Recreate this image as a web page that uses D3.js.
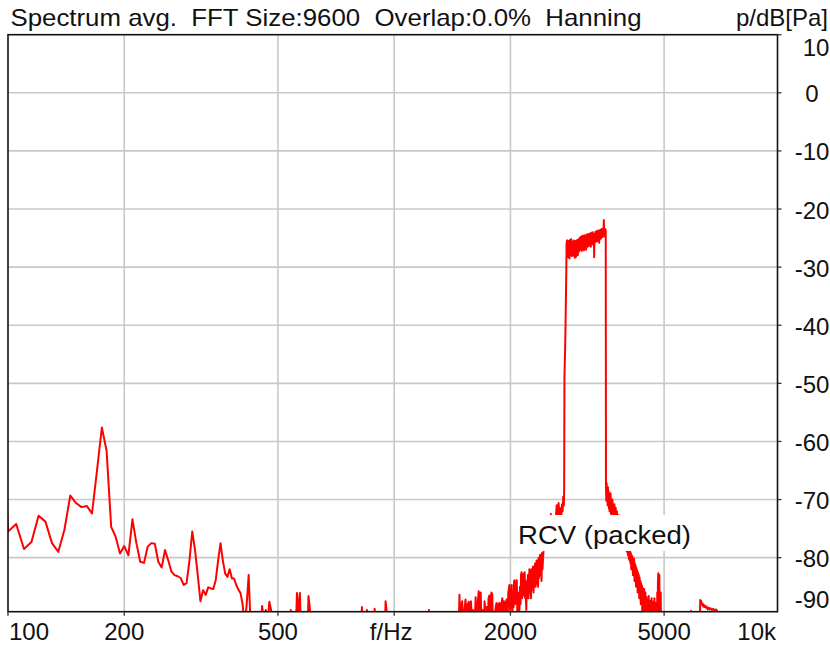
<!DOCTYPE html>
<html>
<head>
<meta charset="utf-8">
<script src="https://cdn.jsdelivr.net/npm/d3@7"></script>
<style>
  html, body { margin: 0; padding: 0; background: #fff; }
  svg { display: block; font-family: "Liberation Sans", Arial, sans-serif; }
</style>
</head>
<body>
<svg id="chart" width="830" height="647"></svg>
<script>
// spectrum, 5 Hz bins from 95 Hz up to 610 Hz
const lowStartHz = 95;
const lowStepHz = 5;
const lowDb = [
  -40, -75.5, -74.2, -78.5, -77.3, -72.8, -73.8, -77.5, -79.0, -75.2,
  -69.3, -70.6, -71.3, -71.1, -72.4, -65.0, -57.6, -61.6, -74.7, -76.4,
  -79.3, -78.0, -79.6, -73.4, -77.5, -80.7, -80.9, -78.1, -77.5, -77.6,
  -80.7, -81.7, -78.7, -80.5, -82.4, -83.0, -83.2, -83.5, -84.7, -84.4,
  -80.5, -75.5, -78.7, -83.0, -87.5, -85.6, -86.4, -85.1, -85.3, -85.4,
  -83.9, -80.5, -77.5, -80.5, -82.7, -83.3, -82.0, -83.6, -83.6, -84.7,
  -85.5, -86.1, -88.0, -92.0, -88.0, -83.0, -92.0, -95, -95, -95,
  -95, -95, -88.3, -91, -89, -92, -87.6, -89, -95, -95,
  -95, -95, -95, -95, -95, -95, -95, -95, -95, -89,
  -95, -95, -95, -86.1, -89.5, -86.1, -95, -95, -95, -95,
  -95, -86.6, -88.8, -95
];

// 615 Hz .. 2800 Hz (floor blips, rising noise, band edge)
const midHz = [
  615, 820, 825, 830, 845, 850, 855, 885, 890, 895, 945, 950, 955, 960, 1225, 1230, 1235, 1460,
  1465, 1476, 1485, 1495, 1500, 1510, 1520, 1530, 1540, 1550, 1560, 1570, 1580, 1590, 1600, 1612,
  1625, 1635, 1645, 1655, 1665, 1675, 1685, 1695, 1705, 1714, 1725, 1735, 1745, 1755, 1765, 1775,
  1785, 1795, 1805, 1815, 1828, 1840, 1850, 1860, 1873, 1885, 1895, 1905, 1915, 1925, 1935, 1945,
  1955, 1965, 1975, 1988, 1995, 2002, 2008, 2015, 2022, 2030, 2037, 2044, 2050, 2057, 2064, 2070,
  2077, 2084, 2090, 2097, 2104, 2110, 2117, 2124, 2130, 2137, 2144, 2150, 2157, 2164, 2170, 2177,
  2184, 2191, 2198, 2205, 2212, 2219, 2226, 2233, 2239, 2246, 2253, 2260, 2267, 2274, 2281, 2288,
  2295, 2302, 2309, 2316, 2323, 2330, 2337, 2344, 2351, 2358, 2365, 2372, 2379, 2386, 2393, 2400,
  2407, 2414, 2421, 2428, 2440, 2455, 2470, 2485, 2500, 2515, 2530, 2545, 2560, 2575, 2590, 2605,
  2620, 2635, 2650, 2665, 2680, 2695, 2710, 2720, 2730, 2740, 2750, 2755,
  2760, 2775, 2790, 2795, 2800
];
const midDb = [
  -95, -95, -88.5, -95, -95, -89, -95, -95, -88.8, -95, -95, -87.5, -89, -95, -95, -89, -95, -95,
  -95, -86.4, -93, -88, -87.5, -95, -89, -87.2, -92, -88, -87.6, -95, -87.5, -91, -89, -94,
  -86.8, -92, -88, -85.8, -90, -86, -93, -89, -95, -87.5, -90, -88.5, -94, -87, -86.5, -91,
  -86, -86.3, -95, -90, -89, -87.8, -92, -88, -87.8, -95, -88, -87, -90, -87.5, -92, -88,
  -87.2, -91, -86, -84.7, -89, -85.5, -88, -84.7, -90, -86, -88.5, -84, -83.9, -88, -84.5, -86.5,
  -83.9, -89.5, -88.5, -95, -86, -89, -85, -88, -83, -82.5, -87, -84, -82.8, -86.5, -84.5, -82.5,
  -87, -86, -89, -84, -86.5, -83, -87, -85, -82, -86, -83.5, -87, -82, -85.5, -84.5, -81.5,
  -86, -82.5, -84.5, -81, -85, -83, -80.5, -84.5, -82, -85, -80, -83.5, -81.5, -79.5, -83, -81,
  -84, -79.2, -82, -80.5, -78, -77.5, -78.5, -76.5, -77, -75.5, -74.5, -72.5, -75, -73, -74, -75.5,
  -73.5, -71, -72.5, -70.6, -73, -71.5, -72.5, -70.8, -72, -69.5, -71, -68.5,
  -49, -42, -31, -26, -25.5
];

// the RCV band plateau, 5 Hz bins from 2805 Hz to 3530 Hz
const bandStartHz = 2805;
const bandStepHz = 5;
const bandDb = [
  -25.4, -27.8, -25.9, -26.9, -28.3, -25.5, -27.2, -26.1, -28.5, -26.4,
  -25.3, -27.6, -26.0, -27.9, -25.2, -26.8, -28.1, -25.8, -27.4, -26.3,
  -25.6, -28.0, -26.5, -25.4, -27.3, -26.0, -28.4, -25.9, -27.0, -25.5,
  -26.9, -28.2, -25.7, -26.6, -27.7, -25.3, -26.4, -27.9, -25.8,
  -26.9, -25.2, -27.3, -25.6, -26.5, -24.9, -27.0, -25.5, -26.2, -24.8,
  -26.7, -25.3, -27.2, -25.1, -24.6, -26.4, -25.0, -26.9, -24.7, -25.8,
  -27.1, -25.2, -24.5, -26.3, -25.0, -26.6, -24.8, -25.7, -27.0, -25.1,
  -24.4, -26.2, -25.3, -24.6, -26.5, -25.0, -24.3, -25.9, -24.8, -26.1,
  -24.6, -26.3, -25.0, -24.2, -25.8, -24.5, -26.5, -24.9, -24.1, -25.6,
  -24.4, -26.0, -25.2, -24.0, -25.5, -24.7, -26.2, -24.3, -25.1, -28.3,
  -25.0, -24.2, -25.7, -24.5, -23.9, -25.4, -24.8, -24.0, -25.6, -24.3,
  -23.8, -25.2, -24.6, -23.9, -25.5, -24.1, -23.7, -25.0, -24.4, -25.8,
  -23.9, -25.0, -24.2, -23.6, -24.9, -23.8, -25.1, -24.0, -23.5, -24.7,
  -23.7, -24.4, -23.4, -24.8, -23.6, -23.3, -24.5, -23.5, -21.9, -23.2,
  -24.6, -23.4, -24.2, -23.6, -24.8, -23.5, -24.0
];

// 3535 Hz .. 9830 Hz, falling skirt and high blips
const highHz = [
  3535, 3542, 3549, 3556, 3563, 3570, 3577, 3584, 3591, 3598, 3605, 3612, 3619, 3626, 3633, 3640,
  3647, 3654, 3661, 3668, 3675, 3682, 3689, 3696, 3703, 3710, 3717, 3724, 3731, 3738, 3745, 3752,
  3759, 3766, 3773, 3780, 3787, 3794, 3801, 3808, 3815, 3822, 3830, 3838, 3846, 3854, 3862, 3870,
  3878, 3886, 3894, 3902, 3910, 3918, 3926, 3934, 3942, 3950, 3960, 3970, 3980, 3990, 4000, 4010,
  4020, 4030, 4040, 4050, 4060, 4070, 4080, 4090, 4100, 4110, 4120, 4130, 4140, 4150, 4160, 4170,
  4180, 4190, 4200, 4210, 4220, 4230, 4240, 4250, 4260, 4270, 4280, 4290, 4300, 4310, 4320, 4330,
  4340, 4350, 4360, 4370, 4380, 4390, 4400, 4410, 4420, 4430, 4440, 4450, 4460, 4470, 4480, 4490,
  4500, 4510, 4520, 4530, 4540, 4550, 4560, 4570, 4580, 4590, 4600, 4610, 4620, 4630, 4640, 4650,
  4660, 4670, 4680, 4690, 4700, 4710, 4720, 4730, 4740, 4750, 4760, 4770, 4780, 4790, 4800, 4810,
  4820, 4830, 4840, 4850, 4860, 4870, 4880, 4890, 4900, 4910, 4920, 5860, 5870, 5880,
  6180, 6200, 6215, 6230, 6250, 6270, 6290, 6310, 6330, 6350, 6380, 6410, 6440, 6480, 6520, 6560,
  6600, 6650, 6700, 6750, 6800, 6850, 6900, 9830
];
const highDb = [
  -67.5, -70.2, -67.2, -69.8, -68.0, -71.0, -67.9, -70.5, -68.6, -71.6, -69.0, -72.0, -69.4, -71.2, -68.9, -72.4,
  -70.1, -73.0, -70.6, -72.2, -70.0, -73.4, -71.0, -74.0, -71.2, -73.1, -70.8, -74.2, -71.9, -73.6, -71.4, -74.6,
  -72.3, -75.0, -72.0, -74.4, -72.6, -75.4, -72.9, -74.8, -72.7, -75.8, -73.1, -76.0, -73.4, -75.2, -73.0, -76.4,
  -73.8, -75.6, -72.9, -76.8, -74.0, -77.0, -73.6, -76.2, -74.4, -77.6, -75.0, -78.0, -76.0, -78.8, -76.6, -79.0,
  -77.2, -79.6, -77.8, -80.2, -78.0, -80.5, -78.6, -81.0, -79.2, -82.0, -79.6, -81.5, -79.8, -83.0, -80.4, -82.6,
  -80.2, -84.0, -81.0, -83.2, -81.4, -85.0, -81.8, -84.2, -82.2, -86.0, -82.6, -85.0, -83.0, -87.0, -83.4, -85.8,
  -84.0, -88.0, -84.4, -86.6, -84.8, -89.5, -85.2, -87.4, -85.6, -92, -85.4, -88.2, -95, -86.0, -88.6, -95,
  -86.8, -90, -87.2, -95, -87.8, -92, -86.6, -95, -88.0, -95, -87.4, -95, -88.4, -95, -87.0, -95,
  -88.6, -95, -87.6, -95, -88.2, -95, -87.0, -95, -88.8, -95, -87.8, -95, -88.4, -95, -86.0, -89,
  -84.0, -82.7, -88, -95, -83.0, -95, -89, -95, -86.0, -95, -95, -95, -89.2, -95,
  -95, -87.3, -88, -87.4, -87.8, -88.1, -87.9, -88.4, -88.1, -88.5, -88.3, -88.6, -88.4, -88.9, -88.6, -88.9,
  -88.7, -89.0, -88.8, -89.1, -88.9, -89.1, -95, -95
];

const yTicks = [10, 0, -10, -20, -30, -40, -50, -60, -70, -80, -90];
const yGrid = [0, -10, -20, -30, -40, -50, -60, -70, -80];
const xTicks = [100, 200, 500, 1000, 2000, 5000, 10000];
const xTickLabels = ["100", "200", "500", "f/Hz", "2000", "5000", "10k"];
const xGrid = [200, 500, 1000, 2000, 5000];

const titleText = "Spectrum avg.  FFT Size:9600  Overlap:0.0%  Hanning";
const unitText = "p/dB[Pa]";
const markerText = "RCV (packed)";

const drawChart = () => {
    const svg = d3.select("#chart");
    const left = 8, right = 777.5, top = 34.7, bottom = 611.7;

    const x = d3.scaleLog().domain([100, 9830]).range([left, right]);
    const y = d3.scaleLinear().domain([-89.3, 10]).range([bottom, top]);

    const points = [];
    lowDb.forEach((v, i) => points.push([lowStartHz + i * lowStepHz, v]));
    midHz.forEach((f, i) => points.push([f, midDb[i]]));
    bandDb.forEach((v, i) => points.push([bandStartHz + i * bandStepHz, v]));
    highHz.forEach((f, i) => points.push([f, highDb[i]]));

    svg.append("defs").append("clipPath").attr("id", "plot-clip")
        .append("rect")
        .attr("x", left).attr("y", top)
        .attr("width", right - left).attr("height", bottom - top);

    // grid
    svg.append("g").selectAll("line")
        .data(xGrid)
        .join("line")
        .attr("x1", d => x(d)).attr("x2", d => x(d))
        .attr("y1", top).attr("y2", bottom)
        .attr("stroke", "#c8c8c8")
        .attr("stroke-width", 1.6);

    svg.append("g").selectAll("line")
        .data(yGrid)
        .join("line")
        .attr("x1", left).attr("x2", right)
        .attr("y1", d => y(d)).attr("y2", d => y(d))
        .attr("stroke", "#c8c8c8")
        .attr("stroke-width", 1.6);

    // spectrum
    const line = d3.line()
        .x(d => x(d[0]))
        .y(d => y(d[1]));

    svg.append("path")
        .datum(points)
        .attr("clip-path", "url(#plot-clip)")
        .attr("d", line)
        .attr("fill", "none")
        .attr("stroke", "#ff0000")
        .attr("stroke-width", 2)
        .attr("stroke-linejoin", "round");

    // label box over the trace
    const marker = svg.append("g");
    marker.append("rect")
        .attr("x", 516).attr("y", 515)
        .attr("width", 176).attr("height", 36)
        .attr("fill", "#fff");
    marker.append("text")
        .attr("x", 518).attr("y", 543.5)
        .attr("font-size", 25)
        .attr("fill", "#111")
        .attr("textLength", 173)
        .attr("lengthAdjust", "spacingAndGlyphs")
        .text(markerText);

    // frame
    svg.append("rect")
        .attr("x", left).attr("y", top)
        .attr("width", right - left).attr("height", bottom - top)
        .attr("fill", "none")
        .attr("stroke", "#111")
        .attr("stroke-width", 1.6);

    // right axis
    const yIn = yTicks.filter(d => y(d) <= bottom + 0.5);
    svg.append("g").selectAll("line")
        .data(yIn)
        .join("line")
        .attr("x1", right).attr("x2", right + 4)
        .attr("y1", d => y(d)).attr("y2", d => y(d))
        .attr("stroke", "#333")
        .attr("stroke-width", 1.3);

    svg.append("g").selectAll("text")
        .data(yTicks)
        .join("text")
        .attr("x", d => d === 10 ? 816 : 812)
        .attr("y", d => Math.min(Math.max(y(d) + 9.5, top + 21.3), bottom - 3.7))
        .attr("text-anchor", "middle")
        .attr("font-size", 24)
        .attr("fill", "#111")
        .text(d => d);

    // bottom axis
    svg.append("g").selectAll("line")
        .data(xTicks.filter(d => d < 9830))
        .join("line")
        .attr("x1", d => x(d)).attr("x2", d => x(d))
        .attr("y1", bottom).attr("y2", bottom + 4)
        .attr("stroke", "#333")
        .attr("stroke-width", 1.3);

    svg.append("g").selectAll("text")
        .data(xTicks)
        .join("text")
        .attr("x", (d, i) => i === 0 ? 9 : i === xTicks.length - 1 ? 776 : (d === 1000 ? x(d) - 3 : x(d)))
        .attr("y", 640)
        .attr("text-anchor", (d, i) => i === 0 ? "start" : i === xTicks.length - 1 ? "end" : "middle")
        .attr("font-size", 24)
        .attr("fill", "#111")
        .text((d, i) => xTickLabels[i]);

    // header
    svg.append("text")
        .attr("x", 10.5).attr("y", 26)
        .attr("font-size", 24)
        .attr("fill", "#111")
        .style("white-space", "pre")
        .attr("textLength", 631)
        .attr("lengthAdjust", "spacingAndGlyphs")
        .text(titleText);

    svg.append("text")
        .attr("x", 828).attr("y", 26)
        .attr("text-anchor", "end")
        .attr("font-size", 24)
        .attr("fill", "#111")
        .text(unitText);
};

drawChart();
</script>
</body>
</html>
